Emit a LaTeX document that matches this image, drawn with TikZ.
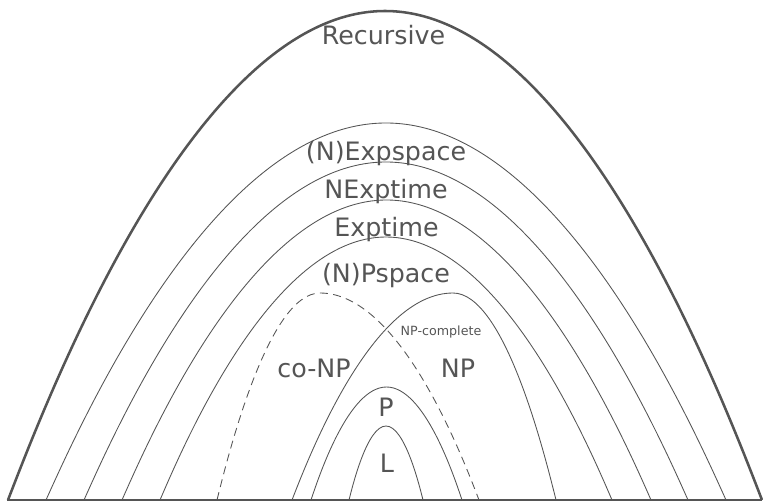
\documentclass[tikz,border=0pt]{standalone}
\usepackage{fontspec}
\setmainfont{DejaVu Sans}
\definecolor{ink}{HTML}{555555}
\tikzset{
  hull/.style={draw=ink, line width=1.9pt},
  cls/.style={draw=ink, line width=0.65pt},
  conp/.style={cls, dash pattern=on 6pt off 4pt},
  baseln/.style={draw=ink, line width=1.5pt},
  big/.style={text=ink, font=\fontsize{19}{21}\selectfont, inner sep=0pt, anchor=base},
  small/.style={text=ink, font=\fontsize{9.5}{11}\selectfont, inner sep=0pt, anchor=base},
}
\begin{document}
\begin{tikzpicture}[x=0.75pt, y=-0.75pt]
  \useasboundingbox (0,0) rectangle (763,502);

  % nested complexity classes, each a parabola standing on the base line
  \draw[hull] (8,500) parabola bend (385,11) (762,500);
  \draw[cls]  (46,500) parabola bend (386,123) (726,500);
  \draw[cls]  (84,500) parabola bend (386,162) (688,500);
  \draw[cls]  (122,500) parabola bend (386.5,200) (651,500);
  \draw[cls]  (160,500) parabola bend (386,237) (612,500);
  \draw[conp] (217,500) parabola bend (320,293) (479,500);
  \draw[cls]  (292,500) parabola bend (453,293) (556,500);
  \draw[cls]  (311,500) parabola bend (386.5,387) (462,500);
  \draw[cls]  (349,500) parabola bend (386,426) (423,500);

  % base line
  \draw[baseln] (7,500) -- (762,500);

  % class names
  \node[big] (rec)    at (383.5,45)  {Recursive};
  \node[big] (expsp)  at (386,161)   {(N)Expspace};
  \node[big] (nexpt)  at (386,199)   {NExptime};
  \node[big] (expt)   at (386.5,237) {Exptime};
  \node[big] (pspace) at (386,282)   {(N)Pspace};
  \node[big] (conp)   at (314,377)   {co-NP};
  \node[big] (np)     at (458,377)   {NP};
  \node[small] (npc)  at (441,335)   {NP-complete};
  \node[big] (p)      at (386,416)   {P};
  \node[big] (l)      at (387,472)   {L};
\end{tikzpicture}
\end{document}
